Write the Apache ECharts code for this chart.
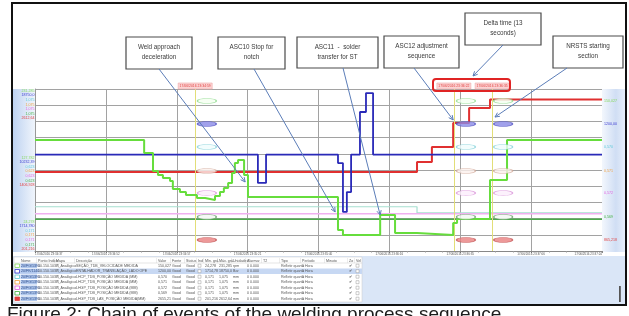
<!DOCTYPE html>
<html><head><meta charset="utf-8">
<script src="https://cdn.jsdelivr.net/npm/echarts@6/dist/echarts.min.js"></script>
<style>html,body{margin:0;padding:0;background:#fff;overflow:hidden}#c{width:629px;height:316px}</style>
</head><body><div id="c"></div>
<script>
// ---------- data (time in seconds from start, value in % of each pen's scale) ----------
const timeTickLabels = ['17/06/2016 23:34:37','17/06/2016 23:34:52','17/06/2016 23:34:57','17/06/2016 23:35:21','17/06/2016 23:35:40','17/06/2016 23:36:16','17/06/2016 23:36:35','17/06/2016 23:37:06','17/06/2016 23:37:24'];
const speedPen = [[0,68.5],[30.8,68.5],[30.8,60.5],[33.3,60.5],[33.3,49.4],[34.7,49.4],[34.7,46.9],[36.1,46.9],[36.1,45.1],[38.1,45.1],[38.1,43.2],[38.9,43.2],[38.9,38.3],[40.9,38.3],[40.9,36.4],[42.6,36.4],[42.6,34.6],[45.7,34.6],[45.7,32.7],[48.0,32.7],[48.0,31.5],[50.8,31.5],[50.8,34.0],[52.2,34.0],[52.2,36.4],[53.3,36.4],[53.3,38.9],[54.5,38.9],[54.5,42.0],[55.6,42.0],[55.6,48.1],[56.4,48.1],[56.4,54.3],[57.3,54.3],[57.3,56.2],[59.0,56.2],[59.0,46.9],[60.1,46.9],[60.1,33.3],[85.5,33.3],[85.5,13.0],[86.9,13.0],[86.9,9.9],[97.4,9.9],[97.4,22.2],[101.6,22.2],[101.6,11.1],[107.8,11.1],[107.8,9.9],[118.0,9.9],[118.0,17.3],[119.1,17.3],[119.1,19.8],[128.4,19.8],[128.4,43.8],[133.2,43.8],[133.2,68.5],[160,68.5]];
const translationPen = [[0,59.5],[62.9,59.5],[62.9,42.0],[65.2,42.0],[65.2,59.5],[85.5,59.5],[85.5,54.3],[86.9,54.3],[86.9,24.1],[88.0,24.1],[88.0,36.4],[89.2,36.4],[89.2,59.5],[91.7,59.5],[91.7,85.8],[93.4,85.8],[93.4,97.5],[95.4,97.5],[95.4,59.5],[160,59.5]];
const lasPen = [[0,48.8],[107.8,48.8],[107.8,54.9],[112.0,54.9],[112.0,64.2],[118.0,64.2],[118.0,79.0],[122.5,79.0],[122.5,88.3],[128.4,88.3],[128.4,93.5],[160,93.5]];
const lhcpPen = [[0,27.3],[107.8,27.3],[107.8,23.5],[160,23.5]];
const lhgpPen = [[0,23.0],[160,23.0]];
const lhgp2Pen = [[0,19.6],[160,19.6]];
const cursorTimes = [45.2, 118.2, 129.0];
const cursorStamps = ['17/06/2016 23:34:59','17/06/2016 23:36:22','17/06/2016 23:36:35'];
const ovalTimes = [48.5, 121.6, 132.1];
const ovalLevels = [92.6, 78.4, 64.2, 49.4, 35.8, 21.0, 6.8];
const leftScaleTop = ['231,285','18750,0','1,075','1,075','1,075','1,075','2612,64'];
const leftScaleMid = ['127,782','10232,39','0,623','0,623','0,623','0,623','1406,928'];
const leftScaleBot = ['24,278','1714,780','0,171','0,171','0,171','0,171','201,216'];
const rightValues = ['150,027','1200,00','0,570','0,571','0,572','0,569','865,218'];
const annotations = [
  {lines:['Weld approach','deceleration'], tip:[59.3,42.6]},
  {lines:['ASC10 Stop for','notch'], tip:[84.7,24.1]},
  {lines:['ASC11  -  solder','transfer for ST'], tip:[97.4,22.2]},
  {lines:['ASC12 adjustment','sequence'], tip:[118.0,80.9]},
  {lines:['Delta time (13','seconds)'], tip:null},
  {lines:['NRSTS starting','section'], tip:[129.8,82.7]}
];
const tableHeaders = ['Nome','Ponto Índice','Mapa','Descrição','Valor','Fonte','Status','Ind','Mín. grá.','Máx. grá.','Unidade','Alarmar','T2','Tipo','Período','Minuto','Zo','Vel'];
const rowNames = ['20/FG/1390','20/FK/1140','20/FG/1390','20/FG/1390','20/FG/1390','20/FG/1390','20/FG/1390'];
const rowDesc = ['SEÇÃO_TDB_VELOCIDADE MEDIDA','ENTALHADOR_TRANSLAÇÃO_LADO OPE','LHCP_TDB_POSIÇÃO MEDIDA (MM)','LHCP_TDB_POSIÇÃO MEDIDA (MM)','LHGP_TDB_POSIÇÃO MEDIDA (MM)','LHGP_TDB_POSIÇÃO MEDIDA (MM)','LHGP_TDB_LAS_POSIÇÃO MEDIDA(MM)'];
const rowValue = ['150,027','1200,00','0,570','0,571','0,572','0,569','2655,21'];
const rowMin = ['24,278','1714,78','0,171','0,171','0,171','0,171','201,216'];
const rowMax = ['231,285','18750,0','1,075','1,075','1,075','1,075','2612,64'];
const rowUnit = ['rpm','Bar','mm','mm','mm','mm','mm'];
const caption = 'Figure 2: Chain of events of the welding process sequence';

// ---------- styling ----------
const penColors = ['#66dd3c','#2a2ab8','#a6dfd0','#f0b0f0','#4caa4c','#e03030'];
const scaleColors = ['#86d860','#3a3ad0','#5cc8d8','#f0a040','#e060e0','#40b040','#e04040'];
const ovalStyles = [
  {color:'#f4fff0', borderColor:'#8ad88a'},
  {color:'#8a8ae6', borderColor:'#5050c0'},
  {color:'#f0fcfc', borderColor:'#80d0d8'},
  {color:'#fbf0ec', borderColor:'#d0a898'},
  {color:'#fbeefb', borderColor:'#d890d8'},
  {color:'#f2f8f2', borderColor:'#609860'},
  {color:'#e88080', borderColor:'#c05050'}
];
const FF = '"Liberation Sans", Arial, sans-serif';
const chart = echarts.init(document.getElementById('c'));
const penLine = (data, color, w, z) => ({type:'line', data, symbol:'none', lineStyle:{color, width:w}, z, silent:true});

const ovalData = [];
ovalTimes.forEach(t => ovalLevels.forEach((v, i) => ovalData.push({value:[t, v], itemStyle:{color:ovalStyles[i].color, borderColor:ovalStyles[i].borderColor, borderWidth:0.8}})));

const speedSeries = penLine(speedPen, penColors[0], 2, 6);
speedSeries.markLine = {silent:true, symbol:['none','none'], label:{show:false}, lineStyle:{color:'#e2de78', width:1, type:'solid'}, data: cursorTimes.map(t => ({xAxis:t}))};

chart.setOption({
  animation:false,
  grid:{left:35, top:89, width:567, height:162},
  xAxis:{type:'value', min:0, max:160, interval:20,
    axisLine:{lineStyle:{color:'#888'}}, axisTick:{show:true, length:2, lineStyle:{color:'#888'}},
    minorTick:{show:true, splitNumber:4, length:1.5, lineStyle:{color:'#999'}},
    splitLine:{show:true, lineStyle:{color:'#a2a2a2', width:1}},
    axisLabel:{fontSize:3, color:'#555', margin:2, fontFamily:FF, alignMinLabel:'left', alignMaxLabel:'right',
      formatter:v => timeTickLabels[Math.round(v/20)] || ''}},
  yAxis:{type:'value', min:0, max:100, interval:10,
    axisLine:{show:true, lineStyle:{color:'#999'}}, axisTick:{show:false}, axisLabel:{show:false},
    splitLine:{show:true, lineStyle:{color:'#a2a2a2', width:1}}},
  series:[
    penLine(lhcpPen, penColors[2], 1.2, 3),
    penLine(lhgpPen, penColors[3], 1.6, 3),
    penLine(lhgp2Pen, penColors[4], 1.4, 3),
    penLine(lasPen, penColors[5], 2, 4),
    penLine(translationPen, penColors[1], 1.8, 5),
    speedSeries,
    {type:'scatter', data:ovalData, symbol:'circle', symbolSize:[19,5], z:8, silent:true}
  ]
});

// ---------- decorations ----------
const P = (t, v) => chart.convertToPixel({gridIndex:0}, [t, v]);
const G = [];
const txt = (x, y, text, size, fill, align, valign, extra) => G.push(Object.assign({type:'text', z:20, silent:true, style:{x, y, text, fontSize:size, fontFamily:FF, fill, align:align||'left', verticalAlign:valign||'middle'}}, extra||{}));
const rect = (x, y, w, h, fill, stroke, lw, z, r) => G.push({type:'rect', z:z||1, silent:true, shape:{x, y, width:w, height:h, r:r||0}, style:{fill:fill||'none', stroke:stroke||'none', lineWidth:lw||0}});
const seg = (x1, y1, x2, y2, color, lw, z) => G.push({type:'line', z:z||20, silent:true, shape:{x1, y1, x2, y2}, style:{stroke:color, lineWidth:lw||1}});

// side gradient strips
G.push({type:'rect', z:0, silent:true, shape:{x:13, y:89, width:22, height:163}, style:{fill:{type:'linear', x:0, y:0, x2:1, y2:0, colorStops:[{offset:0,color:'#bfd3f1'},{offset:1,color:'#f0f5fc'}]}}});
G.push({type:'rect', z:0, silent:true, shape:{x:602, y:89, width:23, height:163}, style:{fill:{type:'linear', x:0, y:0, x2:1, y2:0, colorStops:[{offset:0,color:'#f3f7fd'},{offset:0.6,color:'#d0def4'},{offset:1,color:'#e6eefa'}]}}});

// left scale stacks
[[leftScaleTop, 90.7],[leftScaleMid, 157.5],[leftScaleBot, 221.5]].forEach(([arr, y0]) => arr.forEach((s, i) => txt(34.5, y0 + i*4.6, s, 3.6, scaleColors[i], 'right')));
// right values
rightValues.forEach((s, i) => txt(604, P(0, ovalLevels[i])[1], s, 3.6, scaleColors[i]));

// cursor timestamps
cursorTimes.forEach((t, i) => {
  const x = P(t, 0)[0];
  rect(x - 17, 83, 34, 6, '#fbd4d4', '#f0a8a8', 0.6, 15);
  txt(x, 86, cursorStamps[i], 3.4, '#e03c3c', 'center');
});
// red highlight box around last two stamps
rect(433, 79, 77, 12, 'none', '#e02424', 2, 16, 3);

// annotation boxes
const boxGeom = [[126,37,66,32],[218,37,67,32],[297,37,81,31],[384,36,75,32],[465,13,76,32],[553,36,70,32]];
const arrowStarts = [[159,69],[254,69],[343,68],[414,68],[503,45],[567,68]];
annotations.forEach((a, i) => {
  const [x, y, w, h] = boxGeom[i];
  rect(x, y, w, h, '#fff', '#4a4a4a', 1.2, 18);
  a.lines.forEach((l, k) => txt(x + w/2, y + 10 + k*10, l, 6.3, '#3a3a3a', 'center'));
  const [x1, y1] = arrowStarts[i];
  const [x2, y2] = a.tip ? P(a.tip[0], a.tip[1]) : [473, 76];
  seg(x1, y1, x2, y2, '#5b7db8', 1, 19);
  const ang = Math.atan2(y2 - y1, x2 - x1), L = 5, wA = 0.45;
  seg(x2, y2, x2 - L*Math.cos(ang - wA), y2 - L*Math.sin(ang - wA), '#5b7db8', 1, 19);
  seg(x2, y2, x2 - L*Math.cos(ang + wA), y2 - L*Math.sin(ang + wA), '#5b7db8', 1, 19);
});

// table
rect(13, 256, 612, 49, '#dae6f7', null, 0, 1);
rect(14, 257, 348, 45, '#ffffff', '#c8c8c8', 0.5, 2);
const colX = [21,38,56,76,158,172,186,198,205,219,233,247,263,281,302,326,349,356];
tableHeaders.forEach((h, i) => { txt(colX[i], 260.5, h, 3.6, '#555'); if (i) seg(colX[i]-1.5, 258, colX[i]-1.5, 263, '#dadada', 0.5, 3); });
seg(14, 263, 362, 263, '#c8c8c8', 0.5, 3);
const rowH = 5.5;
rowNames.forEach((n, r) => {
  const y = 263 + r*rowH, cy = y + rowH/2;
  if (r === 1) rect(14, y, 348, rowH, '#c7d8f3', null, 0, 3);
  rect(20.5, y + 0.5, 16.5, rowH - 1, '#b2c9ee', null, 0, 4);
  rect(15, y + 1, 4.5, rowH - 2, r === 6 ? '#e04040' : '#fff', scaleColors[r], 0.8, 5);
  const cells = [n, '10.150.103.1', 'P_Analógico', rowDesc[r], rowValue[r], 'Good', 'Good', '', rowMin[r], rowMax[r], rowUnit[r], '0 0.000', '', 'Refletir quanto', '1 Hora', '', '✔', ''];
  cells.forEach((c, i) => { if (c) txt(colX[i], cy, c, 3.6, i === 0 ? '#2c4a88' : '#555'); });
  rect(198, y + 1.2, 3, 3, '#fff', '#999', 0.5, 5);
  rect(356, y + 1.2, 3, 3, '#fff', '#999', 0.5, 5);
});
rect(619, 286, 1.8, 16, '#555', null, 0, 5);

// outer frame
rect(12, 3, 614, 302, 'none', '#111', 2, 30);
// caption
txt(7, 315, caption, 19, '#1c1c1c', 'left', 'middle', {z:31});

chart.setOption({graphic:{elements:G}});
</script></body></html>
